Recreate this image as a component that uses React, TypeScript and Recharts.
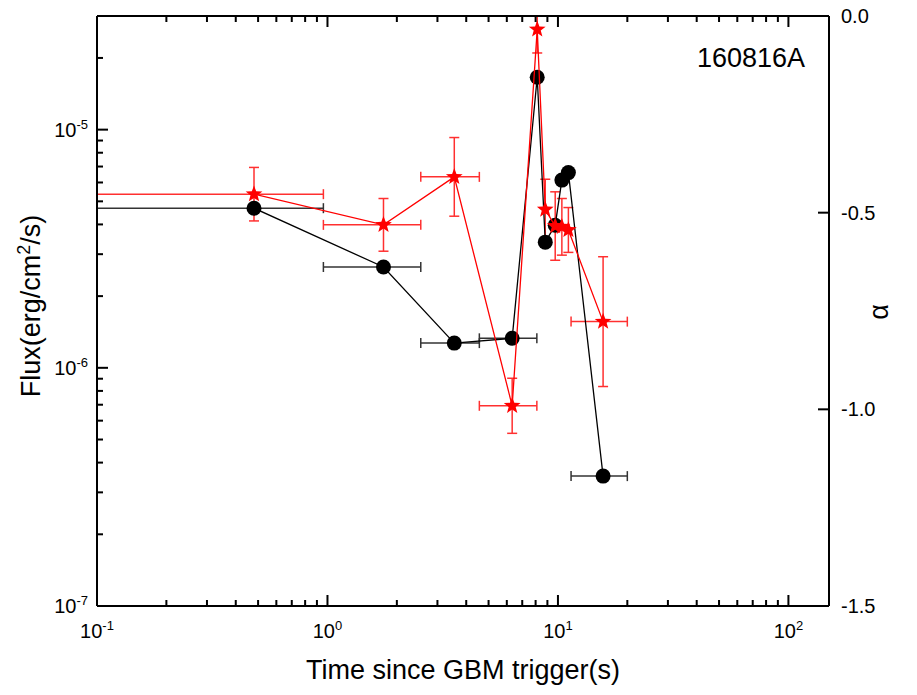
import React from "react";
import { ScatterChart, Scatter, XAxis, YAxis, ErrorBar } from "recharts";

// time bins (s), centre and asymmetric half-widths
const TIME = [0.48, 1.75, 3.55, 6.33, 8.13, 8.81, 9.73, 10.4, 11.1, 15.7];
const TIME_ERR: ([number, number] | null)[] = [
  [0.38, 0.48],
  [0.79, 0.79],
  [1.01, 1.01],
  [1.77, 1.77],
  null,
  null,
  null,
  null,
  null,
  [4.3, 4.3],
];
const FLUX = [4.68e-6, 2.65e-6, 1.27e-6, 1.33e-6, 1.66e-5, 3.37e-6, 3.97e-6, 6.14e-6, 6.6e-6, 3.51e-7];
const ALPHA = [-0.453, -0.531, -0.409, -0.991, -0.034, -0.492, -0.534, -0.536, -0.544, -0.777];
const ALPHA_ERR = [0.068, 0.067, 0.1, 0.07, 0.06, 0.077, 0.087, 0.072, 0.057, 0.165];

const X_DECADES = [0.1, 1, 10];
const Y_DECADES = [1e-7, 1e-6, 1e-5];
const MULTS = [1, 2, 3, 4, 5, 6, 7, 8, 9];
const X_TICKS = [...X_DECADES.flatMap((d) => MULTS.map((m) => d * m)), 100];
const FLUX_TICKS = Y_DECADES.flatMap((d) => MULTS.map((m) => d * m)).filter((v) => v < 2.9e-5);
const ALPHA_TICKS = [0, -0.5, -1.0, -1.5];

const FONT = '"Liberation Sans", Arial, sans-serif';
const RED = "#ff0000";

const fluxData = TIME.map((t, i) => ({ t, flux: FLUX[i], xerr: TIME_ERR[i] }));
const alphaData = TIME.map((t, i) => ({ t, alpha: ALPHA[i], xerr: TIME_ERR[i], yerr: ALPHA_ERR[i] }));

const isMajor = (v: number) => Math.abs(Math.log10(v) - Math.round(Math.log10(v))) < 1e-6;
const expOf = (v: number) => Math.round(Math.log10(v));

function BottomTick(props: any) {
  const { x, y, payload } = props;
  const major = isMajor(payload.value);
  const len = major ? 11 : 6;
  return (
    <g>
      <rect x={x - 1} y={y - len} width={2} height={len} fill="#000" />
      {major && (
        <text x={x} y={y + 32} textAnchor="middle" fontSize={20} fontFamily={FONT} fill="#000">
          10<tspan dy={-8} fontSize={13}>{expOf(payload.value)}</tspan>
        </text>
      )}
    </g>
  );
}

function TopTick(props: any) {
  const { x, y, payload } = props;
  const len = isMajor(payload.value) ? 11 : 6;
  return <rect x={x - 1} y={y} width={2} height={len} fill="#000" />;
}

function LeftTick(props: any) {
  const { x, y, payload } = props;
  const major = isMajor(payload.value);
  const len = major ? 11 : 6;
  return (
    <g>
      <rect x={x} y={y - 1} width={len} height={2} fill="#000" />
      {major && (
        <text x={x - 9} y={y + 7} textAnchor="end" fontSize={20} fontFamily={FONT} fill="#000">
          10<tspan dy={-8} fontSize={13}>{expOf(payload.value)}</tspan>
        </text>
      )}
    </g>
  );
}

function RightTick(props: any) {
  const { x, y, payload } = props;
  return (
    <g>
      <rect x={x - 11} y={y - 1} width={11} height={2} fill="#000" />
      <text x={x + 12} y={y + 7} textAnchor="start" fontSize={20} fontFamily={FONT} fill="#000">
        {Number(payload.value).toFixed(1)}
      </text>
    </g>
  );
}

function Dot(props: any) {
  const { cx, cy } = props;
  if (cx == null || cy == null) return <g />;
  return <circle cx={cx} cy={cy} r={7.5} fill="#000" />;
}

function Star(props: any) {
  const { cx, cy } = props;
  if (cx == null || cy == null) return <g />;
  const pts: string[] = [];
  for (let i = 0; i < 10; i++) {
    const r = i % 2 === 0 ? 8.8 : 3.7;
    const a = -Math.PI / 2 + (i * Math.PI) / 5;
    pts.push(`${cx + r * Math.cos(a)},${cy + r * Math.sin(a)}`);
  }
  return <polygon points={pts.join(" ")} fill={RED} />;
}

export default function App() {
  return (
    <div style={{ position: "absolute", left: 0, top: 0, width: 917, height: 695, background: "#fff" }}>
      <ScatterChart width={917} height={695} margin={{ top: 6, right: 28, bottom: 49, left: 37 }}>
        <XAxis
          xAxisId={0}
          dataKey="t"
          type="number"
          scale="log"
          domain={[0.1, 150]}
          allowDataOverflow
          ticks={X_TICKS}
          interval={0}
          tick={<BottomTick />}
          tickLine={false}
          tickSize={0}
          tickMargin={0}
          height={40}
          axisLine={{ stroke: "#000", strokeWidth: 2 }}
        />
        <XAxis
          xAxisId="top"
          orientation="top"
          dataKey="t"
          type="number"
          scale="log"
          domain={[0.1, 150]}
          allowDataOverflow
          ticks={X_TICKS}
          interval={0}
          tick={<TopTick />}
          tickLine={false}
          tickSize={0}
          tickMargin={0}
          height={10}
          axisLine={{ stroke: "#000", strokeWidth: 2 }}
        />
        <YAxis
          yAxisId="left"
          dataKey="flux"
          type="number"
          scale="log"
          domain={[1e-7, 3e-5]}
          allowDataOverflow
          ticks={FLUX_TICKS}
          interval={0}
          tick={<LeftTick />}
          tickLine={false}
          tickSize={0}
          tickMargin={0}
          width={60}
          axisLine={{ stroke: "#000", strokeWidth: 2 }}
        />
        <YAxis
          yAxisId="right"
          orientation="right"
          dataKey="alpha"
          type="number"
          domain={[-1.5, 0]}
          allowDataOverflow
          ticks={ALPHA_TICKS}
          interval={0}
          tick={<RightTick />}
          tickLine={false}
          tickSize={0}
          tickMargin={0}
          width={60}
          axisLine={{ stroke: "#000", strokeWidth: 2 }}
        />
        <Scatter
          data={fluxData}
          xAxisId={0}
          yAxisId="left"
          shape={<Dot />}
          line={{ stroke: "#000", strokeWidth: 1.3 }}
          isAnimationActive={false}
        >
          <ErrorBar dataKey="xerr" direction="x" width={5} stroke="#333" strokeWidth={1.5} />
        </Scatter>
        <Scatter
          data={alphaData}
          xAxisId={0}
          yAxisId="right"
          shape={<Star />}
          line={{ stroke: RED, strokeWidth: 1.3 }}
          isAnimationActive={false}
        >
          <ErrorBar dataKey="xerr" direction="x" width={5} stroke="#ff3030" strokeWidth={1.5} />
          <ErrorBar dataKey="yerr" direction="y" width={5} stroke="#ff3030" strokeWidth={1.5} />
        </Scatter>
      </ScatterChart>
      <svg
        width={917}
        height={695}
        style={{ position: "absolute", left: 0, top: 0, pointerEvents: "none" }}
        fontFamily={FONT}
      >
        {/* hide error bar overflow above the frame */}
        <rect x={90} y={0} width={745} height={15} fill="#fff" />
        <text x={463} y={679} textAnchor="middle" fontSize={27} fill="#000">
          Time since GBM trigger(s)
        </text>
        <text x={697} y={67} fontSize={27} fill="#000">
          160816A
        </text>
        <text x={40} y={306} textAnchor="middle" fontSize={27} fill="#000" transform="rotate(-90 40 306)">
          Flux(erg/cm<tspan dy={-10} fontSize={18}>2</tspan>
          <tspan dy={10}>/s)</tspan>
        </text>
        <text x={888} y={312} textAnchor="middle" fontSize={27} fill="#000" transform="rotate(-90 888 312)">
          α
        </text>
      </svg>
    </div>
  );
}
